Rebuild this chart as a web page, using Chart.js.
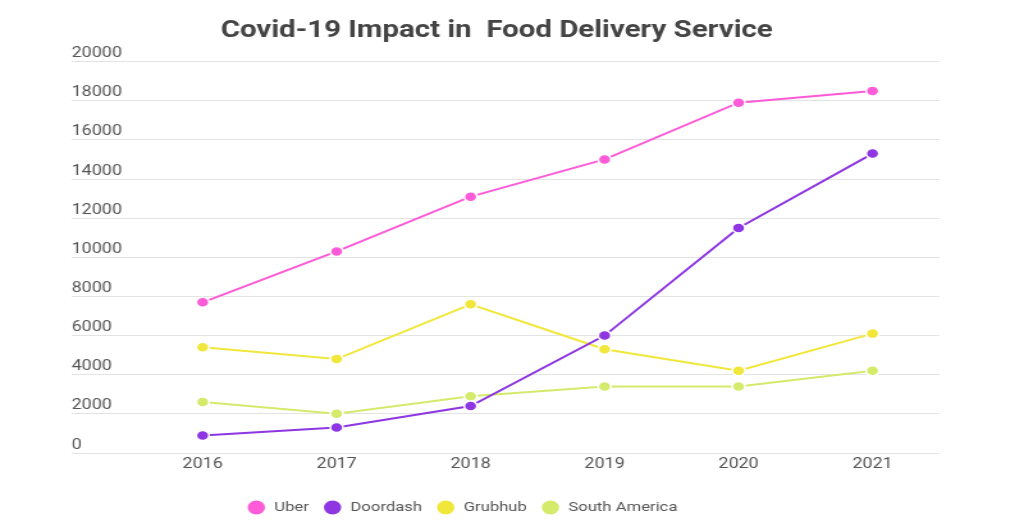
<!DOCTYPE html>
<html>
<head>
<meta charset="utf-8">
<script src="https://cdn.jsdelivr.net/npm/chart.js@4"></script>
<style>
    html, body { margin: 0; padding: 0; background: #fff; }
    #wrap { width: 1024px; height: 526px; overflow: hidden; }
    canvas { display: block; }
</style>
</head>
<body>
<div id="wrap">
    <!-- drawn at 800 wide, shown stretched to 1024 like the reference -->
    <canvas id="myChart" width="800" height="526" style="width:1024px;height:526px"></canvas>
</div>
<script>
const years = ['2016', '2017', '2018', '2019', '2020', '2021']
const uber = [7700, 10300, 13100, 15000, 17900, 18500]
const doordash = [900, 1300, 2400, 6000, 11500, 15300]
const grubhub = [5400, 4800, 7600, 5300, 4200, 6100]
const southAmerica = [2600, 2000, 2900, 3400, 3400, 4200]
const yTicks = [0, 2000, 4000, 6000, 8000, 10000, 12000, 14000, 16000, 18000, 20000]

const colors = ['#fd5bd7', '#8d36e2', '#f1e73b', '#d4ea6b']

function series(label, data, color) {
    return {
        label: label,
        data: data,
        borderColor: color,
        backgroundColor: color,
        borderWidth: 2,
        pointRadius: 5,
        pointHoverRadius: 5,
        pointBorderColor: '#fff',
        pointBorderWidth: 1.5,
        pointBackgroundColor: color,
        tension: 0
    }
}

// title and legend sit a little left of centre in the original
const nudgeBlocks = {
    id: 'nudgeBlocks',
    afterLayout(chart) {
        if (chart.titleBlock) {
            chart.titleBlock.left -= 7
            chart.titleBlock.right -= 7
        }
        if (chart.legend) {
            chart.legend.left -= 34
            chart.legend.right -= 34
            chart.legend.adjustHitBoxes()
        }
    }
}

const ctx = document.getElementById('myChart').getContext('2d')
const myChart = new Chart(ctx, {
    type: 'line',
    data: {
        labels: years,
        datasets: [
            series('Uber', uber, colors[0]),
            series('Doordash', doordash, colors[1]),
            series('Grubhub', grubhub, colors[2]),
            series('South America', southAmerica, colors[3])
        ]
    },
    plugins: [nudgeBlocks],
    options: {
        responsive: false,
        devicePixelRatio: 1,
        animation: false,
        layout: {
            padding: { left: 56, right: 66, top: 0, bottom: 2 }
        },
        plugins: {
            title: {
                display: true,
                text: 'Covid-19 Impact in  Food Delivery Service',
                color: '#444',
                font: { family: 'Roboto', size: 23, weight: 'bold' },
                padding: { top: 17, bottom: 17 }
            },
            legend: {
                position: 'bottom',
                labels: {
                    usePointStyle: true,
                    pointStyle: 'circle',
                    pointStyleWidth: 15,
                    boxHeight: 11,
                    color: '#555',
                    font: { family: 'Roboto', size: 13 },
                    padding: 11
                }
            },
            tooltip: { enabled: false }
        },
        scales: {
            x: {
                offset: true,
                afterFit: function (scale) {
                    scale.height = 37
                },
                grid: { display: false, drawTicks: false },
                border: { display: false },
                ticks: {
                    color: '#555',
                    font: { family: 'Roboto', size: 14 },
                    padding: 3
                }
            },
            y: {
                min: 0,
                max: 20000,
                afterBuildTicks: function (scale) {
                    scale.ticks = yTicks.map(v => ({ value: v }))
                },
                afterFit: function (scale) {
                    scale.width = 50
                },
                grid: {
                    color: '#e3e3e3',
                    lineWidth: 1,
                    drawTicks: true,
                    tickLength: 50
                },
                border: { display: false },
                ticks: {
                    crossAlign: 'far',
                    labelOffset: -8,
                    color: '#555',
                    font: { family: 'Roboto', size: 14 },
                    padding: 0,
                    callback: function (value) {
                        return String(value)
                    }
                }
            }
        }
    }
})
</script>
</body>
</html>
